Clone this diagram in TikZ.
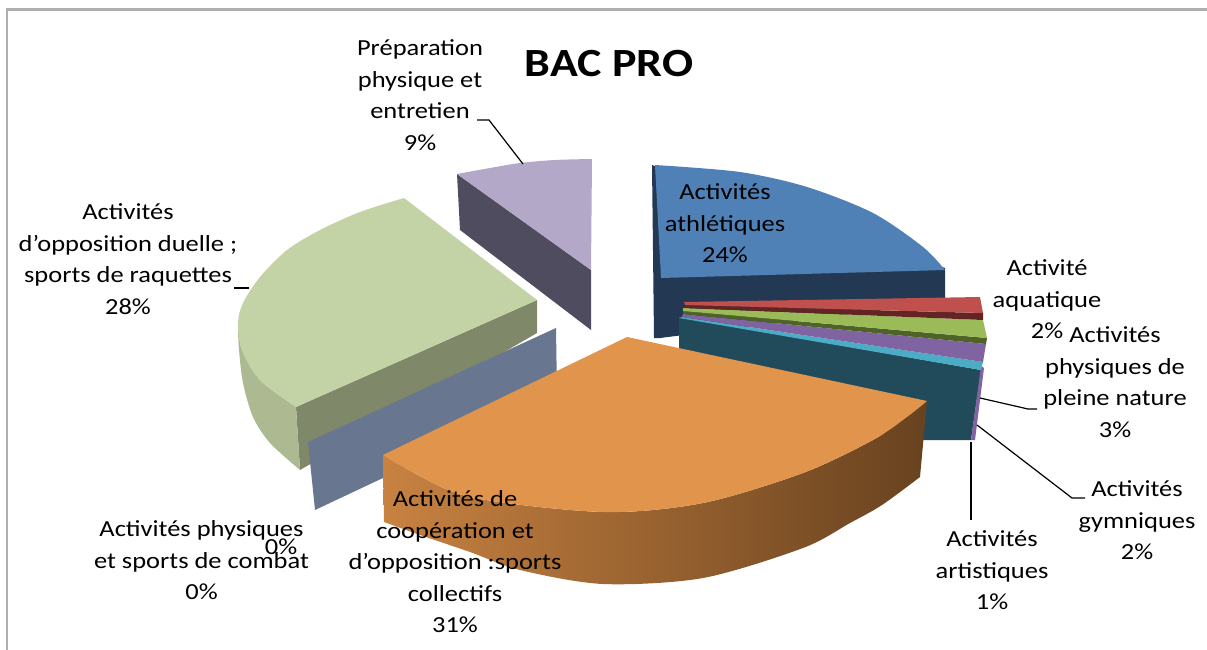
\documentclass[tikz,border=0pt]{standalone}
\usepackage{fontspec}
\setmainfont{Carlito}[FakeStretch=1.15]
\usepackage{xcolor}
\usepackage{tikz}
\usetikzlibrary{positioning,calc}

\definecolor{athTop}{RGB}{79,129,183}
\definecolor{athSide}{RGB}{35,56,82}
\definecolor{aquaTop}{RGB}{192,80,77}
\definecolor{aquaSide}{RGB}{99,37,35}
\definecolor{natTop}{RGB}{155,187,89}
\definecolor{natSide}{RGB}{79,98,40}
\definecolor{gymTop}{RGB}{128,100,162}
\definecolor{artTop}{RGB}{75,172,198}
\definecolor{artSide}{RGB}{33,75,90}
\definecolor{colTop}{RGB}{225,149,76}
\definecolor{colSideL}{RGB}{200,130,65}
\definecolor{colSideM}{RGB}{128,82,38}
\definecolor{colSideR}{RGB}{104,66,31}
\definecolor{comTop}{RGB}{104,119,143}
\definecolor{duoTop}{RGB}{196,211,166}
\definecolor{duoSide}{RGB}{128,136,106}
\definecolor{duoCurve}{RGB}{172,185,145}
\definecolor{prepTop}{RGB}{180,168,200}
\definecolor{prepSide}{RGB}{80,76,95}
\definecolor{framegray}{RGB}{175,175,175}

\tikzset{
  lbl/.style={align=center, inner sep=0pt, anchor=north, font=\fontsize{23}{31.5}\selectfont},
  lblone/.style={inner sep=0pt, anchor=base, font=\fontsize{23}{31.5}\selectfont},
  leader/.style={draw=black, line width=1.2pt}
}

\begin{document}
\begin{tikzpicture}[x=1pt,y=-1pt] %一个像素一个pt
		\useasboundingbox (0,0) rectangle (1207,650);
		\draw[framegray, line width=2.8pt] (7,650) -- (7,9.5) -- (1207,9.5);
		%% 9% : preparation
		\fill[prepSide] (457,174) -- (591,270) -- (591,330) -- (460,230) -- cycle;
		\fill[prepTop] plot[smooth] coordinates {(457,174) (490,168) (520,163) (555,160) (592,159)} -- (591,270) -- cycle;
		%% 28% : duelle
		\fill[duoSide] (296,407) -- (537,300) -- (537,333) -- (300,470) -- cycle;
		\fill[duoCurve] plot[smooth] coordinates {(238,323) (242,350) (260,380) (296,407)} -- (300,470) -- plot[smooth] coordinates {(300,470) (270,443) (253,417) (243,383) (239,350) (238,330)} -- cycle;
		\fill[duoTop] (404,198) -- (537,300) -- (296,407) -- plot[smooth] coordinates {(296,407) (260,380) (242,350) (238,323) (243,303) (260,277) (287,250) (320,230) (360,212) (404,198)} -- cycle;
		%% 0% : combat
		\fill[comTop] (308,442) -- (556,328) -- (557,396) -- (315,510) -- cycle;
		%% 24% : athletiques
		\fill[athSide] (652,165) -- (945,268) -- (945,302) -- (660,338) -- (654,338) -- cycle;
		\fill[athTop] plot[smooth] coordinates {(655,165) (740,172) (807,187) (873,213) (923,247) (945,270)} -- (661,278) -- cycle;
		%% petites parts
		\fill[artSide] (679,317) -- (981,370) -- (971,440) -- (900,440) -- (679,352) -- cycle;
		\fill[gymTop] (981,366) -- (984,368) -- (975,440) -- (971,440) -- cycle;
		\fill[artTop] (682,317) -- (983,362) -- (981,370) -- (679,318) -- cycle;
		\fill[gymTop] (683,314) -- (986,344) -- (983,362) -- (682,317) -- cycle;
		\fill[natSide] (683,311) -- (987,338) -- (986,344) -- (683,314) -- cycle;
		\fill[natTop] (683,308) -- (983,320) -- (987,338) -- (683,311) -- cycle;
		\fill[aquaSide] (685,305) -- (983,313) -- (983,320) -- (684,308) -- cycle;
		\fill[aquaTop] (684,302) -- (980,297) -- (983,313) -- (685,305) -- cycle;
		%% 31% : collectifs
		\shade[left color=colSideL, middle color=colSideM, right color=colSideR]
			plot[smooth] coordinates {(383,455) (403,467) (470,497) (603,512) (703,503) (803,473) (873,440) (907,417) (927,401)}
			-- (920,477) -- plot[smooth] coordinates {(920,477) (882,505) (850,523) (803,548) (703,578) (603,584) (520,570) (470,552) (420,535) (384,522)} -- cycle;
		\fill[colTop] (627,337) -- (927,401) -- plot[smooth] coordinates {(927,401) (907,417) (873,440) (803,473) (703,503) (603,512) (470,497) (403,467) (383,455)} -- cycle;
		%% titre et etiquettes
		\node[inner sep=0pt, anchor=base, font=\fontsize{40}{48}\selectfont\bfseries] (title) at (609,77) {BAC PRO};
		\node[lbl] (prep) at (420,39.5) {Préparation\\physique et\\entretien\\9\%};
		\node[lbl] (ath) at (725,183.5) {Activités\\athlétiques\\24\%};
		\node[lbl] (aqua) at (1047,259.5) {Activité\\aquatique\\2\%};
		\node[lbl] (nat) at (1115,326.5) {Activités\\physiques de\\pleine nature\\3\%};
		\node[lbl] (gym) at (1137,480.5) {Activités\\gymniques\\2\%};
		\node[lbl] (art) at (992,530.5) {Activités\\artistiques\\1\%};
		\node[lbl] (col) at (455,490.5) {Activités de\\coopération et\\d’opposition :sports\\collectifs\\31\%};
		\node[lbl] (com) at (201.5,520.5) {Activités physiques\\et sports de combat\\0\%};
		\node[lblone] (comb) at (281,554) {0\%};
		\node[lbl] (duo) at (128,203.5) {Activités\\d’opposition duelle ;\\sports de raquettes\\28\%};
		%% traits de rappel
		\coordinate (prepEnd) at (477,120);
		\coordinate (prepBend) at (489,120);
		\coordinate (prepTip) at (523,164);
		\coordinate (duoEnd) at (234,288);
		\coordinate (duoTip) at (249,288);
		\coordinate (natEnd) at (1037,409);
		\coordinate (natBend) at (1028,409);
		\coordinate (natTip) at (980,398);
		\coordinate (gymEnd) at (1085,498);
		\coordinate (gymBend) at (1072,498);
		\coordinate (gymTip) at (977,425);
		\coordinate (artEnd) at (971,520);
		\coordinate (artTip) at (971,442);
		\draw[leader] (prepEnd) -- (prepBend) -- (prepTip);
		\draw[leader] (duoEnd) -- (duoTip);
		\draw[leader] (natEnd) -- (natBend) -- (natTip);
		\draw[leader] (gymEnd) -- (gymBend) -- (gymTip);
		\draw[leader] (artEnd) -- (artTip);
	\end{tikzpicture}
\end{document}
